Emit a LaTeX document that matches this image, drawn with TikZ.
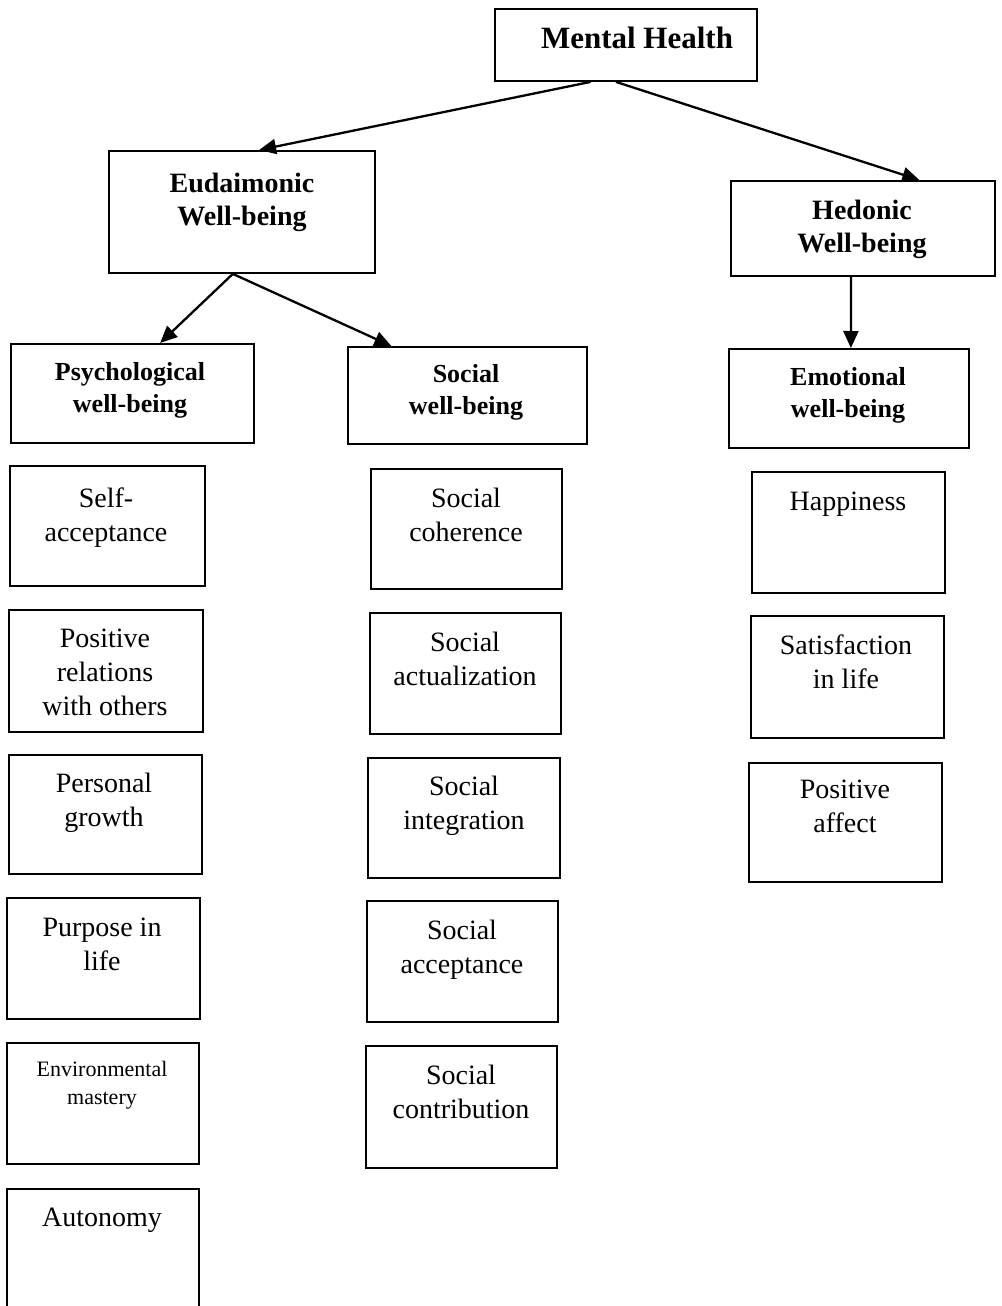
\documentclass[tikz,border=0pt]{standalone}
\usepackage{fontspec}
\setmainfont{Liberation Serif}
\usetikzlibrary{arrows.meta,calc}
\tikzset{
 boxst/.style={draw, line width=1.9pt, inner sep=0pt, anchor=north west},
 txt/.style={anchor=north, align=center, inner sep=0pt},
 reg/.style={font=\fontsize{28}{34}\selectfont},
 small/.style={font=\fontsize{22}{28}\selectfont},
 hdr/.style={font=\fontsize{28}{33}\selectfont\bfseries},
 sub/.style={font=\fontsize{26}{32}\selectfont\bfseries},
 top/.style={font=\fontsize{31}{36}\selectfont\bfseries},
 conn/.style={line width=2.3pt, -{Triangle[length=17pt,width=15pt]}},
}
\newcommand\mkbox[5]{\node[boxst, minimum width={(#4-#2)*1pt}, minimum height={(#5-#3)*1pt}] (#1) at (#2,#3) {};}
\begin{document}
\begin{tikzpicture}[x=1pt,y=-1pt]
\useasboundingbox (0,0) rectangle (1001,1306);
% boxes
\mkbox{mh}{494}{8}{756}{80}
\mkbox{eu}{108}{150}{374}{272}
\mkbox{hd}{730}{180}{994}{275}
\mkbox{ps}{10}{343}{253}{442}
\mkbox{sw}{347}{346}{586}{443}
\mkbox{em}{728}{348}{968}{447}
\mkbox{sa}{9}{465}{204}{585}
\mkbox{pr}{8}{609}{202}{731}
\mkbox{pg}{8}{754}{201}{873}
\mkbox{pl}{6}{897}{199}{1018}
\mkbox{env}{6}{1042}{198}{1163}
\mkbox{au}{6}{1188}{198}{1314}
\mkbox{sc}{370}{468}{561}{588}
\mkbox{sac}{369}{612}{560}{733}
\mkbox{si}{367}{757}{559}{877}
\mkbox{sacc}{366}{900}{557}{1021}
\mkbox{sco}{365}{1045}{556}{1167}
\mkbox{ha}{751}{471}{944}{592}
\mkbox{sl}{750}{615}{943}{737}
\mkbox{pa}{748}{762}{941}{881}
% texts
\node[txt,top] (tmh) at (637,22.8) {\strut Mental Health};
\node[txt,hdr] (teu) at (242,168.9) {\strut Eudaimonic\\Well-being};
\node[txt,hdr] (thd) at (862,195.9) {\strut Hedonic\\Well-being};
\node[txt,sub] (tps) at (130,357.6) {\strut Psychological\\well-being};
\node[txt,sub] (tsw) at (466,359.6) {\strut Social\\well-being};
\node[txt,sub] (tem) at (848,362.6) {\strut Emotional\\well-being};
\node[txt,reg] (tsa) at (106,483.2) {\strut Self-\\acceptance};
\node[txt,reg] (tpr) at (105,623.2) {\strut Positive\\relations\\with others};
\node[txt,reg] (tpg) at (104,768.2) {\strut Personal\\growth};
\node[txt,reg] (tpl) at (102,912.2) {\strut Purpose in\\life};
\node[txt,small] (tenv) at (102,1056.4) {\strut Environmental\\mastery};
\node[txt,reg] (tau) at (102,1202.2) {\strut Autonomy};
\node[txt,reg] (tsc) at (466,483.2) {\strut Social\\coherence};
\node[txt,reg] (tsac) at (465,627.2) {\strut Social\\actualization};
\node[txt,reg] (tsi) at (464,771.2) {\strut Social\\integration};
\node[txt,reg] (tsacc) at (462,915.2) {\strut Social\\acceptance};
\node[txt,reg] (tsco) at (461,1060.2) {\strut Social\\contribution};
\node[txt,reg] (tha) at (848,486.2) {\strut Happiness};
\node[txt,reg] (tsl) at (846,630.2) {\strut Satisfaction\\in life};
\node[txt,reg] (tpa) at (845,774.2) {\strut Positive\\affect};
% connectors
\draw[conn] ($(mh.south west)!0.366!(mh.south east)$) -- ($(eu.north west)!0.564!(eu.north east)$);
\draw[conn] ($(mh.south west)!0.462!(mh.south east)$) -- ($(hd.north west)!0.712!(hd.north east)$);
\draw[conn] ($(eu.south west)!0.466!(eu.south east)$) -- ($(ps.north west)!0.613!(ps.north east)$);
\draw[conn] ($(eu.south west)!0.466!(eu.south east)$) -- ($(sw.north west)!0.184!(sw.north east)$);
\draw[conn] ($(hd.south west)!0.455!(hd.south east)$) -- ($(em.north west)!0.508!(em.north east)$);
\end{tikzpicture}
\end{document}
